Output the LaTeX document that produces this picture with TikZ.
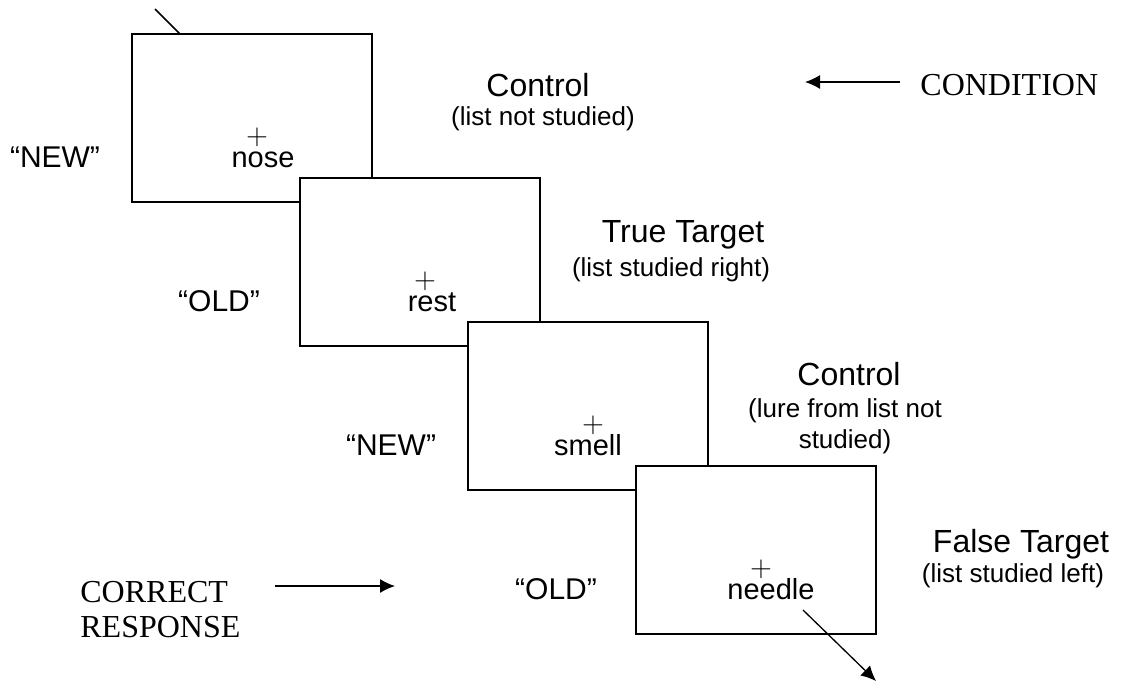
\documentclass[tikz,border=0pt]{standalone}
\usepackage{fontspec}
\setmainfont{Liberation Serif}
\setsansfont{Liberation Sans}
\usepackage{tikz}
\usetikzlibrary{arrows.meta,positioning}
\tikzstyle{screen}=[draw,fill=white,line width=1pt,minimum width=120pt,minimum height=84pt,inner sep=0pt]
\tikzstyle{word}=[anchor=base,inner sep=0pt,font=\sffamily\fontsize{14.5}{17}\selectfont]
\tikzstyle{fix}=[inner sep=0pt,font=\fontsize{13.5}{13.5}\selectfont]
\tikzstyle{resp}=[anchor=base,inner sep=0pt,font=\sffamily\fontsize{15}{18}\selectfont]
\tikzstyle{cond}=[anchor=base,inner sep=0pt,font=\sffamily\fontsize{16}{19}\selectfont]
\tikzstyle{condsub}=[anchor=base,inner sep=0pt,align=center,font=\sffamily\fontsize{13}{15.5}\selectfont]
\tikzstyle{legend}=[anchor=base west,inner sep=0pt,align=left,font=\rmfamily\fontsize{16}{17.5}\selectfont]
\tikzstyle{edge}=[-{Latex[length=7.5pt,width=7pt]},line width=0.65pt]

\begin{document}
\begin{tikzpicture}[x=0.5pt,y=-0.5pt]
  \useasboundingbox (0,0) rectangle (1128,681);
  % tail from the screen before
  \coordinate (prev) at (155,9);
  \draw[line width=0.8pt] (prev) -- (180,34);
  % the four test screens
  \foreach \k/\w/\wx/\r/\rx in {0/nose/263/NEW/55,1/rest/432/OLD/219,2/smell/588/NEW/391,3/needle/771/OLD/556} {
    \node[screen] (s\k) at (252+168*\k,118+144*\k) {};
    \node[fix] (f\k) at (257+168*\k,137+144*\k) {$+$};
    \node[word] (w\k) at (\wx,167+144*\k) {\w};
    \node[resp] (r\k) at (\rx,167+144*\k) {“\r”};
  }
  % conditions
  \node[cond] (c0) at (538,96) {Control};
  \node[condsub] (c0s) at (543,125) {(list not studied)};
  \node[cond] (c1) at (683,242) {True Target};
  \node[condsub] (c1s) at (671,276) {(list studied right)};
  \node[cond] (c2) at (849,385) {Control};
  \node[condsub] (c2s) at (845,448) {(lure from list not\\studied)};
  \node[cond] (c3) at (1021,552) {False Target};
  \node[condsub] (c3s) at (1013,582) {(list studied left)};
  % legend
  \node[legend] (cnd) at (920,95) {CONDITION};
  \coordinate (cndtail) at (900,82);
  \coordinate (cndhead) at (805,82);
  \draw[edge] (cndtail) -- (cndhead);
  \node[legend] (crr) at (80,637) {CORRECT\\RESPONSE};
  \coordinate (crrtail) at (275,586);
  \coordinate (crrhead) at (395,586);
  \draw[edge] (crrtail) -- (crrhead);
  % on to the next screen
  \coordinate (nexttail) at (803,610);
  \coordinate (next) at (876,681);
  \draw[edge] (nexttail) -- (next);
\end{tikzpicture}
\end{document}
